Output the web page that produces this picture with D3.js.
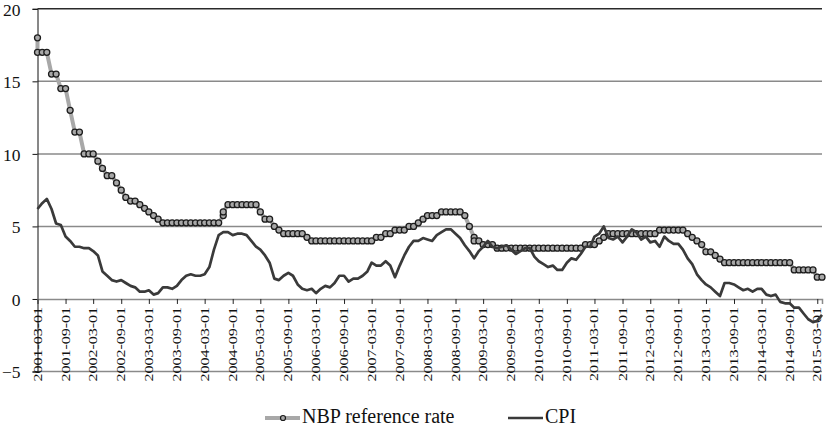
<!DOCTYPE html>
<html>
<head>
<meta charset="utf-8">
<script src="https://cdn.jsdelivr.net/npm/d3@7"></script>
<style>
    body { margin: 0; background: #fff; }
    svg text { font-family: 'Liberation Serif', 'Times New Roman', serif; }
</style>
</head>
<body>
<script>
// months covered by both series, 2001-03 .. 2015-04
var firstMonth = '2001-03-01';
var lastMonth = '2015-04-01';

// CPI, y/y %, one value per month from 2001-03
var cpi = [
    6.2, 6.6, 6.9, 6.2, 5.2, 5.1, 4.3, 4.0, 3.6, 3.6,
    3.5, 3.5, 3.3, 3.0, 1.9, 1.6, 1.3, 1.2, 1.3, 1.1, 0.9, 0.8,
    0.5, 0.5, 0.6, 0.3, 0.4, 0.8, 0.8, 0.7, 0.9, 1.3, 1.6, 1.7,
    1.6, 1.6, 1.7, 2.2, 3.4, 4.4, 4.6, 4.6, 4.4, 4.5, 4.5, 4.4,
    4.0, 3.6, 3.4, 3.0, 2.5, 1.4, 1.3, 1.6, 1.8, 1.6, 1.0, 0.7,
    0.6, 0.7, 0.4, 0.7, 0.9, 0.8, 1.1, 1.6, 1.6, 1.2, 1.4, 1.4,
    1.6, 1.9, 2.5, 2.3, 2.3, 2.6, 2.3, 1.5, 2.3, 3.0, 3.6, 4.0,
    4.0, 4.2, 4.1, 4.0, 4.4, 4.6, 4.8, 4.8, 4.5, 4.2, 3.7, 3.3,
    2.8, 3.3, 3.6, 4.0, 3.6, 3.5, 3.6, 3.7, 3.4, 3.1, 3.3, 3.5,
    3.5, 2.9, 2.6, 2.4, 2.2, 2.3, 2.0, 2.0, 2.5, 2.8, 2.7, 3.1,
    3.6, 3.6, 4.3, 4.5, 5.0, 4.2, 4.1, 4.3, 3.9, 4.3, 4.8, 4.6,
    4.1, 4.3, 3.9, 4.0, 3.6, 4.3, 4.0, 3.8, 3.8, 3.4, 2.8, 2.4,
    1.7, 1.3, 1.0, 0.8, 0.5, 0.2, 1.1, 1.1, 1.0, 0.8, 0.6, 0.7,
    0.5, 0.7, 0.7, 0.3, 0.2, 0.3, -0.2, -0.3, -0.3, -0.6, -0.6, -1.0,
    -1.4, -1.6, -1.5, -1.1
];

// NBP reference rate, %, one value per month from 2001-03
var nbpRate = [
    17, 17, 17, 15.5, 15.5, 14.5, 14.5, 13, 11.5, 11.5,
    10, 10, 10, 9.5, 9, 8.5, 8.5, 8, 7.5, 7, 6.75, 6.75,
    6.5, 6.25, 6, 5.75, 5.5, 5.25, 5.25, 5.25, 5.25, 5.25, 5.25, 5.25,
    5.25, 5.25, 5.25, 5.25, 5.25, 5.25, 6, 6.5, 6.5, 6.5, 6.5, 6.5,
    6.5, 6.5, 6, 5.5, 5.5, 5, 4.75, 4.5, 4.5, 4.5, 4.5, 4.5,
    4.25, 4, 4, 4, 4, 4, 4, 4, 4, 4, 4, 4,
    4, 4, 4, 4.25, 4.25, 4.5, 4.5, 4.75, 4.75, 4.75, 5, 5,
    5.25, 5.5, 5.75, 5.75, 5.75, 6, 6, 6, 6, 6, 5.75, 5,
    4, 4, 3.75, 3.75, 3.75, 3.5, 3.5, 3.5, 3.5, 3.5, 3.5, 3.5,
    3.5, 3.5, 3.5, 3.5, 3.5, 3.5, 3.5, 3.5, 3.5, 3.5, 3.5, 3.5,
    3.75, 3.75, 3.75, 4, 4.25, 4.5, 4.5, 4.5, 4.5, 4.5, 4.5, 4.5,
    4.5, 4.5, 4.5, 4.5, 4.75, 4.75, 4.75, 4.75, 4.75, 4.75, 4.5, 4.25,
    4, 3.75, 3.25, 3.25, 3, 2.75, 2.5, 2.5, 2.5, 2.5, 2.5, 2.5,
    2.5, 2.5, 2.5, 2.5, 2.5, 2.5, 2.5, 2.5, 2.5, 2, 2, 2,
    2, 2, 1.5, 1.5
];

// extra observations that sit at the same month, before the monthly one
var nbpExtraMonths = ['2001-03-01', '2004-07-01', '2009-01-01'];
var nbpExtraValues = [18, 5.75, 4.25];

var xTickLabels = [
    '2001-03-01', '2001-09-01', '2002-03-01', '2002-09-01', '2003-03-01',
    '2003-09-01', '2004-03-01', '2004-09-01', '2005-03-01', '2005-09-01',
    '2006-03-01', '2006-09-01', '2007-03-01', '2007-09-01', '2008-03-01',
    '2008-09-01', '2009-03-01', '2009-09-01', '2010-03-01', '2010-09-01',
    '2011-03-01', '2011-09-01', '2012-03-01', '2012-09-01', '2013-03-01',
    '2013-09-01', '2014-03-01', '2014-09-01', '2015-03-01'
];
var yTicks = [-5, 0, 5, 10, 15, 20];
var seriesNames = ['NBP reference rate', 'CPI'];

window.onload = function() {
    var w = 827, h = 426;
    var serif = "'Liberation Serif', 'Times New Roman', serif";
    var parse = d3.timeParse('%Y-%m-%d');

    var svg = d3.select('body')
        .append('svg')
        .attr('width', w)
        .attr('height', h);

    var x = d3.scaleTime()
        .domain([parse(firstMonth), parse(lastMonth)])
        .range([37.5, 822]);
    var y = d3.scaleLinear()
        .domain([-5, 20])
        .range([371.5, 8.8]);

    var months = cpi.map(function(d, i) {
        return d3.timeMonth.offset(parse(firstMonth), i);
    });
    var cpiData = cpi.map(function(d, i) {
        return {date: months[i], value: d};
    });

    var nbpData = [];
    nbpRate.forEach(function(d, i) {
        var key = d3.timeFormat('%Y-%m-%d')(months[i]);
        var k = nbpExtraMonths.indexOf(key);
        if (k >= 0) {
            nbpData.push({date: months[i], value: nbpExtraValues[k]});
        }
        nbpData.push({date: months[i], value: d});
    });

    // gridlines
    svg.selectAll('.grid')
        .data(yTicks.filter(function(d) { return d !== 0; }))
        .enter()
        .append('line')
        .attr('class', 'grid')
        .attr('x1', x.range()[0])
        .attr('x2', x.range()[1])
        .attr('y1', function(d) { return y(d); })
        .attr('y2', function(d) { return y(d); })
        .style('stroke', function(d) { return d === 20 ? '#2a2a2a' : '#8a8a8a'; })
        .style('stroke-width', 1.5);

    // y axis
    var yAxis = d3.axisLeft(y)
        .tickValues(yTicks)
        .tickSize(5)
        .tickPadding(12);
    var yG = svg.append('g')
        .attr('transform', 'translate(' + x.range()[0] + ',0)')
        .call(yAxis)
        .attr('font-family', serif);
    yG.select('.domain').style('stroke', '#111');
    yG.selectAll('.tick line').style('stroke', '#111');
    yG.selectAll('.tick text')
        .attr('dy', '0.36em')
        .style('font-family', serif)
        .style('font-size', '17.5px')
        .style('fill', '#111');

    // x axis on the zero line
    var xAxis = d3.axisBottom(x)
        .tickValues(xTickLabels.map(parse))
        .tickSize(5)
        .tickFormat('');
    var xG = svg.append('g')
        .attr('transform', 'translate(0,' + y(0) + ')')
        .call(xAxis);
    xG.select('.domain').style('stroke', '#8a8a8a').style('stroke-width', 1.5);
    xG.selectAll('.tick line').style('stroke', '#222');

    svg.selectAll('.xlabel')
        .data(xTickLabels)
        .enter()
        .append('text')
        .attr('class', 'xlabel')
        .attr('text-anchor', 'end')
        .attr('dy', '0.35em')
        .attr('transform', function(d) {
            return 'translate(' + x(parse(d)) + ',' + (y(0) + 8) + ') scale(0.72,1) rotate(-90)';
        })
        .style('font-family', serif)
        .style('font-size', '16px')
        .style('fill', '#111')
        .text(function(d) { return d; });

    var line = d3.line()
        .x(function(d) { return x(d.date); })
        .y(function(d) { return y(d.value); });

    // NBP line with markers
    svg.append('path')
        .datum(nbpData)
        .attr('d', line)
        .style('fill', 'none')
        .style('stroke', '#a8a8a8')
        .style('stroke-width', 4);

    svg.selectAll('.nbp')
        .data(nbpData)
        .enter()
        .append('circle')
        .attr('class', 'nbp')
        .attr('cx', function(d) { return x(d.date); })
        .attr('cy', function(d) { return y(d.value); })
        .attr('r', 3)
        .style('fill', '#a8a8a8')
        .style('stroke', '#1c1c1c')
        .style('stroke-width', 1.3);

    // CPI
    svg.append('path')
        .datum(cpiData)
        .attr('d', line)
        .style('fill', 'none')
        .style('stroke', '#3a3a3a')
        .style('stroke-width', 2.7)
        .style('stroke-linejoin', 'round');

    // legend
    var legend = svg.append('g').attr('class', 'legend');
    legend.append('line')
        .attr('x1', 265).attr('x2', 300)
        .attr('y1', 418).attr('y2', 418)
        .style('stroke', '#a8a8a8')
        .style('stroke-width', 4);
    legend.append('circle')
        .attr('cx', 283).attr('cy', 418).attr('r', 2.5)
        .style('fill', '#a8a8a8')
        .style('stroke', '#1c1c1c')
        .style('stroke-width', 1.2);
    legend.append('text')
        .attr('x', 302).attr('y', 423)
        .style('font-family', serif)
        .style('font-size', '20px')
        .style('fill', '#111')
        .text(seriesNames[0]);
    legend.append('line')
        .attr('x1', 508).attr('x2', 543)
        .attr('y1', 418).attr('y2', 418)
        .style('stroke', '#3a3a3a')
        .style('stroke-width', 2.7);
    legend.append('text')
        .attr('x', 545).attr('y', 423)
        .style('font-family', serif)
        .style('font-size', '20px')
        .style('fill', '#111')
        .text(seriesNames[1]);
};
</script>
</body>
</html>
